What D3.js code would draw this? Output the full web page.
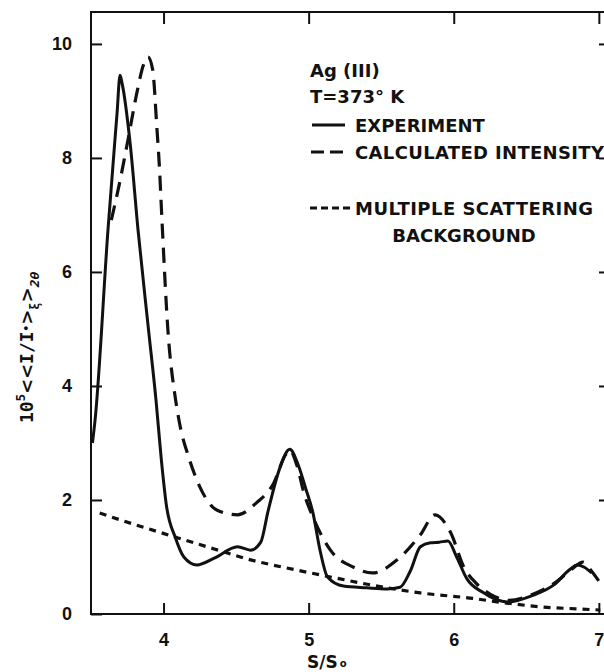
<!DOCTYPE html>
<html>
<head>
<meta charset="utf-8">
<script src="https://cdn.jsdelivr.net/npm/d3@7"></script>
<style>
  html, body { margin: 0; padding: 0; background: #fff; }
  svg { display: block; }
</style>
</head>
<body>
<svg id="chart" width="604" height="672"></svg>
<script>
// ---- data ----
const experimentX = [3.51, 3.528, 3.617, 3.68, 3.70, 3.715, 3.77, 3.824, 3.898, 3.948, 3.985, 4.02, 4.08, 4.14, 4.23, 4.35, 4.51, 4.60, 4.67, 4.72, 4.80, 4.87, 4.93, 4.98, 5.03, 5.08, 5.13, 5.24, 5.40, 5.54, 5.63, 5.70, 5.77, 5.84, 5.90, 5.96, 6.02, 6.09, 6.20, 6.37, 6.55, 6.69, 6.80, 6.85, 6.90, 6.95];
const experimentY = [3.00, 3.40, 6.74, 8.80, 9.45, 9.30, 8.25, 6.74, 4.95, 3.75, 2.70, 1.90, 1.35, 1.00, 0.86, 0.98, 1.18, 1.12, 1.26, 1.80, 2.55, 2.89, 2.60, 2.20, 1.77, 1.10, 0.65, 0.49, 0.46, 0.44, 0.47, 0.75, 1.18, 1.25, 1.26, 1.28, 1.00, 0.62, 0.38, 0.21, 0.33, 0.51, 0.78, 0.86, 0.82, 0.72];

const calculatedX = [3.64, 3.70, 3.755, 3.82, 3.86, 3.893, 3.925, 3.955, 3.97, 3.99, 4.03, 4.08, 4.11, 4.18, 4.25, 4.37, 4.51, 4.64, 4.76, 4.84, 4.87, 4.92, 4.97, 5.03, 5.15, 5.31, 5.44, 5.61, 5.77, 5.87, 5.98, 6.07, 6.15, 6.25, 6.38, 6.55, 6.70, 6.82, 6.89, 6.95, 7.01];
const calculatedY = [6.91, 7.60, 8.32, 9.19, 9.62, 9.77, 9.55, 8.49, 7.91, 6.86, 4.98, 3.81, 3.35, 2.70, 2.23, 1.82, 1.74, 1.95, 2.30, 2.79, 2.87, 2.60, 2.10, 1.70, 1.12, 0.82, 0.72, 0.95, 1.39, 1.74, 1.42, 0.82, 0.55, 0.35, 0.24, 0.35, 0.55, 0.80, 0.91, 0.75, 0.54];

const backgroundX = [3.56, 3.80, 4.08, 4.35, 4.60, 4.90, 5.15, 5.45, 5.77, 6.11, 6.40, 6.62, 6.85, 7.01];
const backgroundY = [1.77, 1.57, 1.35, 1.14, 0.95, 0.78, 0.65, 0.50, 0.37, 0.28, 0.18, 0.12, 0.09, 0.07];

const xTicks = [4, 5, 6, 7];
const yTicks = [0, 2, 4, 6, 8, 10];
const xDomain = [3.5, 7.07];
const yDomain = [0, 10.56];

const legendTitle = ["Ag (III)", "T=373° K"];
const seriesNames = ["EXPERIMENT", "CALCULATED INTENSITY", "MULTIPLE SCATTERING", "BACKGROUND"];

// ---- drawing ----
const svg = d3.select("#chart");
const L = 91, R = 609, T = 12, B = 614;
const x = d3.scaleLinear().domain(xDomain).range([L, R]);
const y = d3.scaleLinear().domain(yDomain).range([B, T]);

const tickFont = "'Liberation Sans', Arial, sans-serif";
const legFont = "'DejaVu Sans', sans-serif";

// axes
const gL = svg.append("g").attr("transform", `translate(${L},0)`)
  .call(d3.axisLeft(y).tickValues(yTicks).tickSize(-11).tickSizeOuter(0).tickPadding(19).tickFormat(d3.format("d")));
const gB = svg.append("g").attr("transform", `translate(0,${B})`)
  .call(d3.axisBottom(x).tickValues(xTicks).tickSize(-11).tickSizeOuter(0).tickPadding(19).tickFormat(d3.format("d")));
const gT = svg.append("g").attr("transform", `translate(0,${T})`)
  .call(d3.axisTop(x).tickValues(xTicks).tickSize(-12).tickSizeOuter(0).tickFormat(""));
const gR = svg.append("g").attr("transform", `translate(${R},0)`)
  .call(d3.axisRight(y).tickValues(yTicks.filter(v => v > 0)).tickSize(-10).tickSizeOuter(0).tickFormat(""));

[gL, gB, gT, gR].forEach(g => {
  g.select(".domain").remove();
  g.selectAll(".tick line").attr("stroke", "#111").attr("stroke-width", 2);
  g.selectAll("text").attr("fill", "#111").style("font-family", tickFont)
    .style("font-weight", "bold").style("font-size", "18px");
});

// frame
svg.append("rect").attr("x", L).attr("y", T).attr("width", R - L).attr("height", B - T)
  .attr("fill", "none").attr("stroke", "#111").attr("stroke-width", 2);

// curves
const mk = (xs, ys) => xs.map((v, i) => [v, ys[i]]);
const line = d3.line().x(d => x(d[0])).y(d => y(d[1])).curve(d3.curveMonotoneX);

svg.append("path").datum(mk(backgroundX, backgroundY)).attr("d", line)
  .attr("fill", "none").attr("stroke", "#111").attr("stroke-width", 3.2).attr("stroke-dasharray", "7,6");
svg.append("path").datum(mk(calculatedX, calculatedY)).attr("d", line)
  .attr("fill", "none").attr("stroke", "#111").attr("stroke-width", 3.2).attr("stroke-dasharray", "15,9");
svg.append("path").datum(mk(experimentX, experimentY)).attr("d", line)
  .attr("fill", "none").attr("stroke", "#111").attr("stroke-width", 3);

// legend
const leg = svg.append("g").style("font-family", legFont).style("font-weight", "bold")
  .style("font-size", "18px").attr("fill", "#111");
leg.append("text").attr("x", 310).attr("y", 77).text(legendTitle[0]);
leg.append("text").attr("x", 310).attr("y", 103).text(legendTitle[1]);
leg.append("line").attr("x1", 312).attr("x2", 345).attr("y1", 125).attr("y2", 125)
  .attr("stroke", "#111").attr("stroke-width", 3);
leg.append("text").attr("x", 355).attr("y", 132).text(seriesNames[0]);
leg.append("line").attr("x1", 311).attr("x2", 346).attr("y1", 152).attr("y2", 152)
  .attr("stroke", "#111").attr("stroke-width", 3).attr("stroke-dasharray", "13,6");
leg.append("text").attr("x", 355).attr("y", 159).attr("textLength", 249).attr("lengthAdjust", "spacing").text(seriesNames[1]);
leg.append("line").attr("x1", 310).attr("x2", 350).attr("y1", 208).attr("y2", 208)
  .attr("stroke", "#111").attr("stroke-width", 3).attr("stroke-dasharray", "7,4");
leg.append("text").attr("x", 355).attr("y", 215).attr("textLength", 238).attr("lengthAdjust", "spacing").text(seriesNames[2]);
leg.append("text").attr("x", 464).attr("y", 242).attr("text-anchor", "middle").text(seriesNames[3]);

// y axis title (rotated)
const yt = svg.append("text").attr("transform", "translate(33,423) rotate(-90)")
  .style("font-family", "'DejaVu Sans Mono', monospace").style("font-weight", "bold")
  .style("font-size", "18px").attr("fill", "#111");
yt.append("tspan").text("10");
yt.append("tspan").attr("dy", -8).style("font-size", "12px").text("5");
yt.append("tspan").attr("dy", 8).style("font-family", "'DejaVu Sans', sans-serif").text("<<");
yt.append("tspan").text("I/I");
yt.append("tspan").attr("dy", -3).style("font-size", "11px").text("•");
yt.append("tspan").attr("dy", 3).style("font-family", "'DejaVu Sans', sans-serif").text(">");
yt.append("tspan").attr("dy", 6).style("font-size", "12px").text("ξ");
yt.append("tspan").attr("dy", -6).style("font-family", "'DejaVu Sans', sans-serif").text(">");
yt.append("tspan").attr("dy", 6).style("font-size", "13px").style("font-style", "italic").text("2θ");

// x axis title
const xt = svg.append("text").attr("x", 307).attr("y", 668)
  .style("font-family", legFont).style("font-weight", "bold").style("font-size", "17px").attr("fill", "#111");
xt.append("tspan").text("S/S");
xt.append("tspan").attr("dx", 2).attr("dy", -1).style("font-size", "10px").text("o");
</script>
</body>
</html>
